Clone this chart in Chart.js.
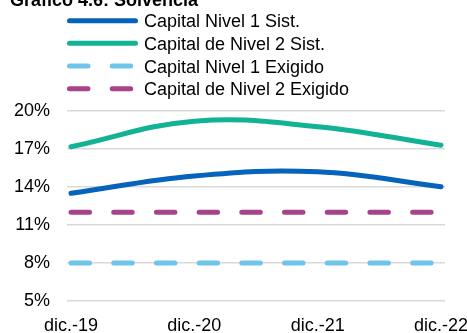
<!DOCTYPE html>
<html>
<head>
<meta charset="utf-8">
<script src="https://cdn.jsdelivr.net/npm/chart.js@4"></script>
<style>
  html, body { margin: 0; padding: 0; overflow: hidden; background: #fff; }
  canvas { display: block; }
</style>
</head>
<body>
<canvas id="myChart" width="490" height="345" style="width:490px;height:345px"></canvas>
<script>
const titleText = 'Gráfico 4.6: Solvencia';
const categories = ['dic.-19', 'dic.-20', 'dic.-21', 'dic.-22'];
const seriesNames = ['Capital Nivel 1 Sist.', 'Capital de Nivel 2 Sist.', 'Capital Nivel 1 Exigido', 'Capital de Nivel 2 Exigido'];
const nivel1Sist = [13.5, 14.87, 15.2, 14.02];
const nivel2Sist = [17.18, 19.2, 18.76, 17.3];
const nivel1Exigido = [8, 8, 8, 8];
const nivel2Exigido = [12, 12, 12, 12];
const yTicks = [5, 8, 11, 14, 17, 20];

const colors = ['#0563BB', '#12B294', '#6EC4EA', '#A8428A'];
const fontFamily = '"Liberation Sans", Arial, sans-serif';

const toPoints = arr => arr.map((v, i) => ({ x: i, y: v }));

// legend drawn by hand: one row per series, lines styled like the datasets
const legendPlugin = {
  id: 'stackedLegend',
  afterDraw(chart) {
    const ctx = chart.ctx;
    ctx.save();
    ctx.fillStyle = '#000';
    ctx.font = 'bold 18px ' + fontFamily;
    ctx.textBaseline = 'alphabetic';
    ctx.fillText(titleText, 10, 6);

    ctx.font = '18px ' + fontFamily;
    chart.data.datasets.forEach((ds, i) => {
      const y = 20.7 + i * 22.67;
      ctx.beginPath();
      ctx.lineWidth = ds.borderWidth;
      ctx.lineCap = 'round';
      ctx.strokeStyle = ds.borderColor;
      ctx.setLineDash(ds.borderDash || []);
      ctx.moveTo(69.5, y);
      ctx.lineTo(135.5, y);
      ctx.stroke();
      ctx.setLineDash([]);
      ctx.fillStyle = '#000';
      ctx.fillText(ds.label, 144, y + 6.5);
    });
    ctx.restore();
  }
};

function makeDataset(i, values, dashed) {
  return {
    label: seriesNames[i],
    data: toPoints(values),
    borderColor: colors[i],
    backgroundColor: colors[i],
    borderWidth: 5,
    borderCapStyle: 'round',
    borderDash: dashed ? [18.5, 24.2] : [],
    tension: dashed ? 0 : 0.4,
    pointRadius: 0,
    fill: false
  };
}

const ctx = document.getElementById('myChart').getContext('2d');
new Chart(ctx, {
  type: 'line',
  data: {
    datasets: [
      makeDataset(0, nivel1Sist, false),
      makeDataset(1, nivel2Sist, false),
      makeDataset(2, nivel1Exigido, true),
      makeDataset(3, nivel2Exigido, true)
    ]
  },
  options: {
    responsive: false,
    animation: false,
    layout: { padding: { left: 14, right: 45, top: 111, bottom: 8 } },
    plugins: {
      legend: { display: false },
      title: { display: false },
      tooltip: { enabled: false }
    },
    scales: {
      x: {
        type: 'linear',
        min: -0.0325,
        max: 3.0325,
        afterBuildTicks: scale => {
          scale.ticks = categories.map((c, i) => ({ value: i }));
        },
        afterFit: scale => {
          scale.height = 36;
          scale.paddingLeft = 0;
          scale.paddingRight = 0;
          scale.paddingTop = 0;
          scale.paddingBottom = 0;
        },
        grid: { display: false, drawTicks: false },
        border: { display: false },
        ticks: {
          padding: 14,
          maxRotation: 0,
          autoSkip: false,
          color: '#000',
          font: { size: 18, family: fontFamily },
          callback: value => categories[value] ?? ''
        }
      },
      y: {
        min: 5,
        max: 20,
        afterBuildTicks: scale => {
          scale.ticks = yTicks.map(v => ({ value: v }));
        },
        afterFit: scale => {
          scale.width = 53;
          scale.paddingLeft = 0;
          scale.paddingRight = 0;
          scale.paddingTop = 0;
          scale.paddingBottom = 0;
        },
        grid: { color: '#d9d9d9', lineWidth: 1.5, drawTicks: false },
        border: { display: false },
        ticks: {
          padding: 17,
          color: '#000',
          font: { size: 18, family: fontFamily },
          callback: value => value + '%'
        }
      }
    }
  },
  plugins: [legendPlugin]
});
</script>
</body>
</html>
